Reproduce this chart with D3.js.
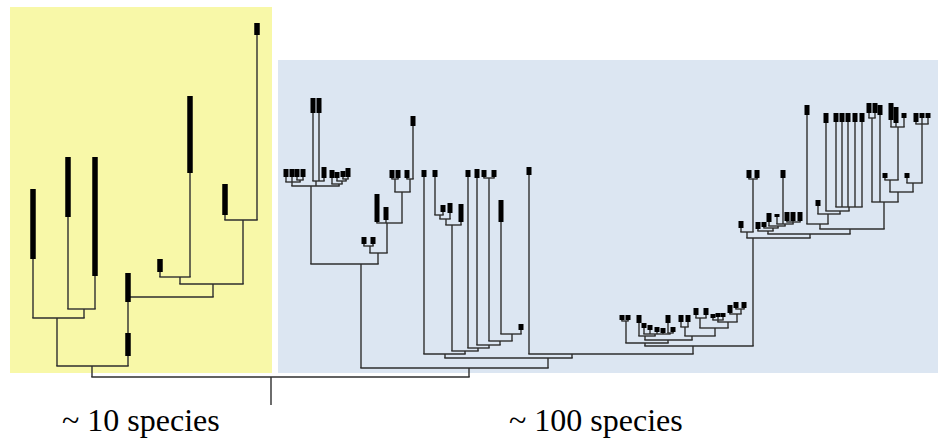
<!DOCTYPE html>
<html lang="en">
<head>
<meta charset="utf-8">
<title>Tree</title>
<script src="https://cdn.jsdelivr.net/npm/d3@7"></script>
<style>
  body { margin: 0; background: #fff; }
</style>
</head>
<body>
<svg id="chart"></svg>
<script>
var width = 938;
var height = 440;

// [id, parent, position, age (node level or range start), range end for tips]
var treeRows = [
  ["root", null, 261, 357],
  ["Y0", "root", 82, 346],
  ["Y1", "Y0", 47, 298],
  ["A", "Y1", 23, 169, 239],
  ["Y3", "Y1", 74, 289],
  ["B", "Y3", 58, 137, 197],
  ["C", "Y3", 85, 137, 256],
  ["Y2", "Y0", 118, 277],
  ["D", "Y2", 118, 253, 282],
  ["Y4", "Y2", 203, 264],
  ["Y5", "Y4", 170, 257],
  ["E", "Y5", 150, 239, 252],
  ["F", "Y5", 180, 76, 153],
  ["Y6", "Y4", 233, 200],
  ["G", "Y6", 215, 164, 195],
  ["H", "Y6", 247, 3, 15],

  ["B0", "root", 459, 348],
  ["BL", "B0", 351, 244],
  ["BL1", "BL", 301, 166],
  ["L", "BL1", 282, 162],
  ["l1", "L", 276, 149, 157],
  ["l2", "L", 282, 149, 157],
  ["Ln", "L", 290, 160],
  ["l3", "Ln", 287, 149, 157],
  ["l4", "Ln", 293, 149, 157],
  ["M", "BL1", 306, 161],
  ["m1", "M", 303, 78, 93],
  ["m2", "M", 309, 78, 93],
  ["m3", "M", 314, 147, 158],
  ["R", "BL1", 329, 164],
  ["r1", "R", 322, 150, 158],
  ["Rn", "R", 332, 161],
  ["r2", "Rn", 327, 152, 158],
  ["Rm", "Rn", 336, 159],
  ["r3", "Rm", 333, 151, 157],
  ["r4", "Rm", 338, 148, 157],
  ["BL2", "BL", 368, 233],
  ["BL2a", "BL2", 360, 226],
  ["q1", "BL2a", 354, 217, 224],
  ["q2", "BL2a", 363, 217, 224],
  ["BL3", "BL2", 377, 203],
  ["q3", "BL3", 367, 174, 202],
  ["q4", "BL3", 376, 187, 200],
  ["BL4", "BL3", 392, 172],
  ["BL5", "BL4", 385, 159],
  ["q5", "BL5", 382, 150, 158],
  ["q6", "BL5", 388, 150, 158],
  ["BL6", "BL4", 400, 159],
  ["q7", "BL6", 397, 150, 158],
  ["q8", "BL6", 403, 96, 106],

  ["BR", "B0", 538, 338],
  ["E1", "BR", 435, 334],
  ["s1", "E1", 414, 150, 157],
  ["D1", "E1", 455, 331],
  ["C1", "D1", 442, 205],
  ["C2", "C1", 436, 199],
  ["C3", "C2", 430, 195],
  ["s2", "C3", 425, 150, 157],
  ["s3", "C3", 433, 185, 192],
  ["s4", "C2", 440, 183, 193],
  ["s5", "C1", 451, 184, 202],
  ["D2", "D1", 468, 328],
  ["s6", "D2", 458, 150, 157],
  ["D3", "D2", 479, 325],
  ["s7", "D3", 467, 149, 158],
  ["D4", "D3", 490, 321],
  ["N484", "D4", 479, 158],
  ["s8", "N484", 474, 150, 157],
  ["s9", "N484", 484, 150, 157],
  ["D5", "D4", 502, 314],
  ["s10", "D5", 491, 180, 202],
  ["s11", "D5", 511, 304, 310],

  ["F1", "BR", 562, 334],
  ["s12", "F1", 519, 147, 155],
  ["G1", "F1", 683, 326],
  ["HH", "G1", 635, 323],
  ["HA", "HH", 616, 301],
  ["h1", "HA", 612, 295, 300],
  ["h2", "HA", 618, 295, 300],
  ["HB", "HH", 658, 320],
  ["HC", "HB", 635, 316],
  ["h3", "HC", 629, 295, 303],
  ["HC2", "HC", 645, 314],
  ["h4", "HC2", 634, 303, 308],
  ["h5", "HC2", 640, 305, 310],
  ["h6", "HC2", 647, 307, 312],
  ["h7", "HC2", 653, 308, 313],
  ["HC3", "HC2", 660, 313],
  ["h8", "HC3", 658, 295, 303],
  ["h9", "HC3", 663, 307, 312],
  ["HD", "HB", 682, 316],
  ["HD1", "HD", 675, 307],
  ["h10", "HD1", 671, 295, 302],
  ["h11", "HD1", 678, 295, 302],
  ["HE", "HD", 705, 308],
  ["HE1", "HE", 690, 298],
  ["h12", "HE1", 686, 288, 295],
  ["h13", "HE1", 696, 288, 295],
  ["HF", "HE", 718, 302],
  ["HF1", "HF", 708, 300],
  ["h14", "HF1", 703, 294, 298],
  ["h15", "HF1", 708, 293, 297],
  ["h16", "HF1", 713, 293, 297],
  ["HF2", "HF", 727, 294],
  ["h17", "HF2", 720, 285, 293],
  ["HF3", "HF2", 731, 289],
  ["h18", "HF3", 726, 282, 288],
  ["h19", "HF3", 734, 282, 288],

  ["I", "G1", 743, 218],
  ["IA", "I", 737, 212],
  ["i1", "IA", 731, 201, 208],
  ["IA1", "IA", 743, 159],
  ["i2", "IA1", 739, 150, 158],
  ["i3", "IA1", 747, 150, 158],
  ["IB", "I", 800, 214],
  ["IC", "IB", 758, 211],
  ["i4", "IC", 748, 202, 209],
  ["IC1", "IC", 763, 208],
  ["i5", "IC1", 754, 202, 207],
  ["IC2", "IC1", 768, 206],
  ["i6", "IC2", 759, 193, 202],
  ["IC3", "IC2", 775, 204],
  ["i7", "IC3", 767, 194, 197],
  ["i8", "IC3", 773, 150, 158],
  ["IC4", "IC3", 783, 202],
  ["i9", "IC4", 777, 192, 201],
  ["i10", "IC4", 783, 192, 201],
  ["i11", "IC4", 790, 192, 201],
  ["ID", "IB", 840, 209],
  ["IE", "ID", 810, 204],
  ["i12", "IE", 797, 85, 95],
  ["IF", "IE", 818, 194],
  ["i13", "IF", 808, 180, 186],
  ["IG", "IF", 830, 191],
  ["i14", "IG", 816, 93, 103],
  ["IH", "IG", 839, 187],
  ["i15", "IH", 826, 93, 102],
  ["i16", "IH", 832, 93, 102],
  ["i17", "IH", 838, 93, 102],
  ["i18", "IH", 845, 93, 102],
  ["i19", "IH", 852, 93, 102],
  ["J", "ID", 874, 182],
  ["J1", "J", 862, 98],
  ["i20", "J1", 859, 83, 93],
  ["i21", "J1", 865, 83, 93],
  ["i22", "J", 870, 85, 95],
  ["K", "J", 888, 172],
  ["K1", "K", 880, 160],
  ["i23", "K1", 875, 153, 158],
  ["K1a", "K1", 888, 107],
  ["i24", "K1a", 881, 83, 100],
  ["i25", "K1a", 886, 87, 103],
  ["i26", "K1a", 894, 93, 98],
  ["K2", "K", 903, 163],
  ["i27", "K2", 897, 153, 158],
  ["K2a", "K2", 912, 104],
  ["i28", "K2a", 906, 93, 102],
  ["i29", "K2a", 912, 93, 98],
  ["i30", "K2a", 918, 93, 98]
];

// range drawn on an inner branch
var stemRanges = [["Y2", 313, 336]];
var rootStemEnd = 385;

var groupLabels = ["~ 10 species", "~ 100 species"];

var svg = d3.select("#chart")
    .attr("width", width)
    .attr("height", height);

var x = d3.scaleLinear().domain([0, 928]).range([10, 938]);
var y = d3.scaleLinear().domain([0, 385]).range([20, 405]);

// background panels
svg.append("rect")
    .attr("x", 10).attr("y", 7)
    .attr("width", 262).attr("height", 366)
    .attr("fill", "#f8f8a8");
svg.append("rect")
    .attr("x", 278).attr("y", 60)
    .attr("width", 660).attr("height", 313)
    .attr("fill", "#dce6f2");

var root = d3.stratify()
    .id(function(d) { return d[0]; })
    .parentId(function(d) { return d[1]; })(treeRows);

var lineColor = "#2e2e2e";
var g = svg.append("g");

// vertical branches
root.descendants().forEach(function(n) {
    var pos = n.data[2], age = n.data[3];
    var from = n.parent ? n.parent.data[3] : rootStemEnd;
    g.append("line")
        .attr("x1", x(pos)).attr("x2", x(pos))
        .attr("y1", y(from)).attr("y2", y(age))
        .attr("stroke", lineColor)
        .attr("stroke-width", 1.4);
});

// horizontal connectors
root.descendants().filter(function(n) { return n.children; }).forEach(function(n) {
    var xs = n.children.map(function(c) { return c.data[2]; }).concat([n.data[2]]);
    g.append("line")
        .attr("x1", x(d3.min(xs)) - 0.7).attr("x2", x(d3.max(xs)) + 0.7)
        .attr("y1", y(n.data[3])).attr("y2", y(n.data[3]))
        .attr("stroke", lineColor)
        .attr("stroke-width", 1.4);
});

// black range bars
var tips = root.descendants().filter(function(n) { return n.data.length > 4; });
var bars = tips.map(function(n) {
    var yellow = n.ancestors().some(function(a) { return a.id === "Y0"; });
    return { pos: n.data[2], top: n.data[3], bottom: n.data[4], w: yellow ? 5.5 : 5 };
});
stemRanges.forEach(function(r) {
    var n = root.find(function(d) { return d.id === r[0]; });
    bars.push({ pos: n.data[2], top: r[1], bottom: r[2], w: 5.5 });
});

svg.append("g").selectAll("rect")
    .data(bars)
    .enter()
    .append("rect")
    .attr("x", function(d) { return x(d.pos) - d.w / 2; })
    .attr("y", function(d) { return y(d.top); })
    .attr("width", function(d) { return d.w; })
    .attr("height", function(d) { return y(d.bottom) - y(d.top); })
    .attr("fill", "#000");

svg.selectAll(".label")
    .data(groupLabels)
    .enter()
    .append("text")
    .attr("class", "label")
    .attr("x", function(d, i) { return i === 0 ? 62 : 509; })
    .attr("y", 431)
    .style("font-family", "'Liberation Serif', 'Times New Roman', serif")
    .style("font-size", "32px")
    .attr("fill", "#000")
    .text(function(d) { return d; });
</script>
</body>
</html>
